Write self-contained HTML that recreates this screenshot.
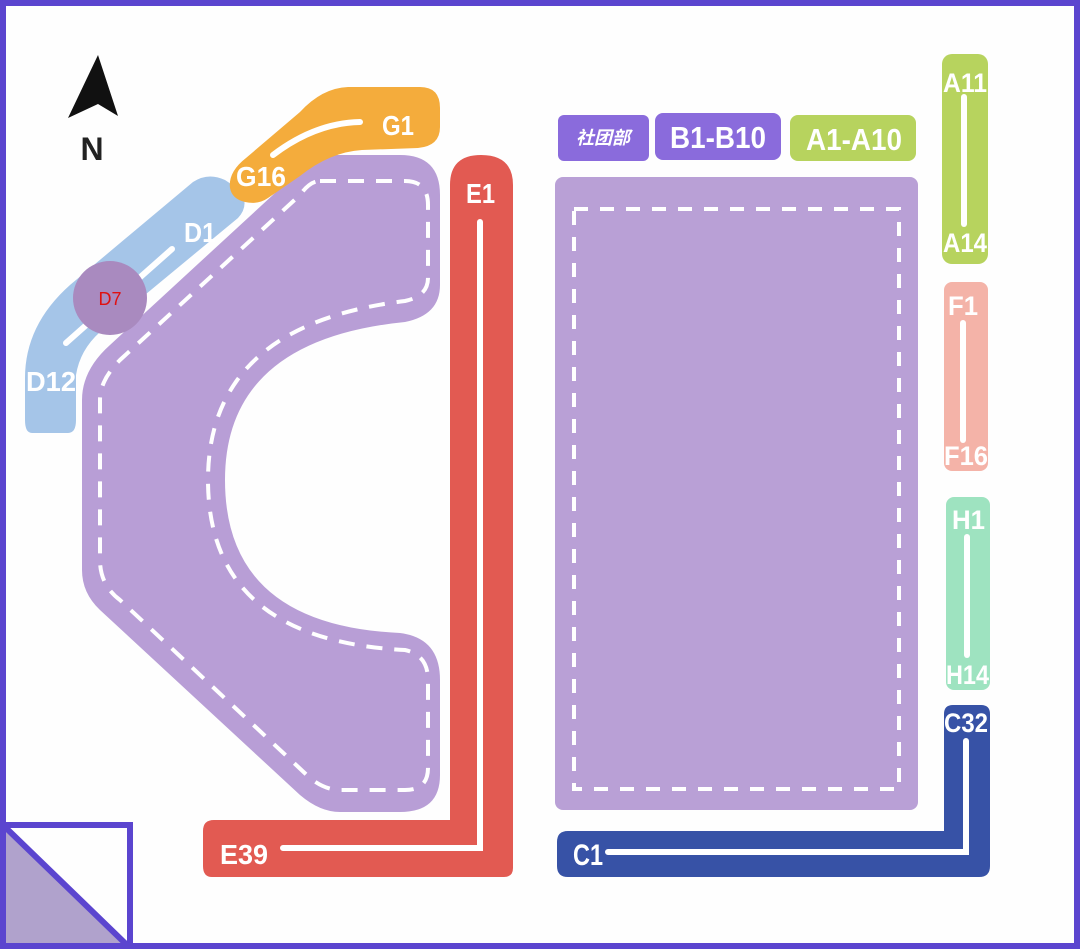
<!DOCTYPE html>
<html><head><meta charset="utf-8"><style>
html,body{margin:0;padding:0;background:#fff;}
svg{display:block;}
text{font-family:"Liberation Sans","Noto Sans CJK SC",sans-serif;font-weight:bold;fill:#fff;}
</style></head><body>
<svg width="1080" height="949" viewBox="0 0 1080 949" xmlns="http://www.w3.org/2000/svg">
<rect x="0" y="0" width="1080" height="949" fill="#fefefe"/>
<!-- C-shaped road -->
<path d="M330 155 L400 155 Q440 155 440 195 L440 285 Q440 315 405 322 Q225 340 225 480 Q225 625 400 633 Q440 638 440 680 L440 775 Q440 812 400 812 L340 812 Q320 812 300 795 L100 610 Q82 593 82 570 L82 400 Q82 370 110 345 L300 170 Q315 155 330 155 Z" fill="#b89ed6"/>
<path d="M320 181 L405 181 Q428 181 428 205 L428 278 Q428 296 405 301 Q208 325 208 480 Q208 640 405 650 Q428 655 428 680 L428 768 Q428 790 405 790 L340 790 Q325 790 310 778 L120 600 Q100 585 100 560 L100 400 Q100 380 120 360 L300 195 Q310 181 320 181 Z" fill="none" stroke="#fff" stroke-width="4" stroke-dasharray="16 12"/>
<!-- D band -->
<path d="M32 433 L68 433 Q76 433 76 420 L76 375 Q80 350 100 332 L238 218 Q250 205 240 190 L225 180 Q208 172 193 182 L70 285 Q25 325 25 378 L25 420 Q25 433 32 433 Z" fill="#a5c5e8"/>
<line x1="66" y1="343" x2="172" y2="249" stroke="#fff" stroke-width="6" stroke-linecap="round"/>
<text x="184" y="242" font-size="28" textLength="32" lengthAdjust="spacingAndGlyphs">D1</text>
<text x="26" y="391" font-size="28" textLength="50" lengthAdjust="spacingAndGlyphs">D12</text>
<circle cx="110" cy="298" r="37" fill="#a98abf"/>
<text x="110" y="305" font-size="18" text-anchor="middle" style="fill:#e01010;font-weight:normal;">D7</text>
<!-- G band -->
<path d="M230 188 Q228 172 246 158 L300 112 Q322 88 348 87 L420 87 Q440 87 440 108 L440 127 Q440 146 418 148 L362 150 Q330 152 300 176 L268 198 Q258 205 245 202 Q232 199 230 188 Z" fill="#f4ac3c"/>
<path d="M273 155 Q315 123 360 122" stroke="#fff" stroke-width="6" fill="none" stroke-linecap="round"/>
<text x="382" y="135" font-size="28" textLength="32" lengthAdjust="spacingAndGlyphs">G1</text>
<text x="236" y="186" font-size="28" textLength="50" lengthAdjust="spacingAndGlyphs">G16</text>
<!-- E band -->
<path d="M450 185 Q450 155 481 155 Q513 155 513 185 L513 868 Q513 877 504 877 L212 877 Q203 877 203 866 L203 831 Q203 820 214 820 L450 820 Z" fill="#e25a52"/>
<path d="M480 222 L480 848 L283 848" stroke="#fff" stroke-width="6" fill="none" stroke-linecap="round"/>
<text x="466" y="203" font-size="28" textLength="29" lengthAdjust="spacingAndGlyphs">E1</text>
<text x="220" y="864" font-size="28" textLength="48" lengthAdjust="spacingAndGlyphs">E39</text>
<!-- big rect -->
<rect x="555" y="177" width="363" height="633" rx="8" fill="#b9a0d6"/>
<rect x="574" y="209" width="325" height="580" fill="none" stroke="#fff" stroke-width="4" stroke-dasharray="14 12"/>
<!-- tags -->
<rect x="558" y="115" width="91" height="46" rx="6" fill="#8a6bdc"/>
<text x="603" y="144" font-size="18" text-anchor="middle" font-style="italic">社团部</text>
<rect x="655" y="113" width="126" height="47" rx="8" fill="#8a6bdc"/>
<text x="670" y="148" font-size="31" textLength="96" lengthAdjust="spacingAndGlyphs">B1-B10</text>
<rect x="790" y="115" width="126" height="46" rx="8" fill="#b7d35e"/>
<text x="806" y="150" font-size="31" textLength="96" lengthAdjust="spacingAndGlyphs">A1-A10</text>
<!-- right bars -->
<rect x="942" y="54" width="46" height="210" rx="10" fill="#b7d35e"/>
<line x1="964" y1="97" x2="964" y2="224" stroke="#fff" stroke-width="6" stroke-linecap="round"/>
<text x="943" y="92" font-size="27" textLength="44" lengthAdjust="spacingAndGlyphs">A11</text>
<text x="943" y="252" font-size="27" textLength="44" lengthAdjust="spacingAndGlyphs">A14</text>
<rect x="944" y="282" width="44" height="189" rx="8" fill="#f4b3a8"/>
<line x1="963" y1="323" x2="963" y2="440" stroke="#fff" stroke-width="6" stroke-linecap="round"/>
<text x="948" y="315" font-size="27" textLength="30" lengthAdjust="spacingAndGlyphs">F1</text>
<text x="944" y="465" font-size="27" textLength="44" lengthAdjust="spacingAndGlyphs">F16</text>
<rect x="946" y="497" width="44" height="193" rx="8" fill="#9ee3c0"/>
<line x1="967" y1="537" x2="967" y2="655" stroke="#fff" stroke-width="6" stroke-linecap="round"/>
<text x="952" y="529" font-size="27" textLength="33" lengthAdjust="spacingAndGlyphs">H1</text>
<text x="946" y="684" font-size="27" textLength="43" lengthAdjust="spacingAndGlyphs">H14</text>
<path d="M944 714 Q944 705 953 705 L981 705 Q990 705 990 714 L990 866 Q990 877 979 877 L568 877 Q557 877 557 866 L557 842 Q557 831 568 831 L944 831 Z" fill="#3752a6"/>
<path d="M966 741 L966 852 L608 852" stroke="#fff" stroke-width="6" fill="none" stroke-linecap="round"/>
<text x="944" y="732" font-size="27" textLength="44" lengthAdjust="spacingAndGlyphs">C32</text>
<text x="573" y="865" font-size="30" textLength="30" lengthAdjust="spacingAndGlyphs">C1</text>
<!-- north arrow -->
<path d="M98 55 L118 116 L98 104 L68 118 Z" fill="#111"/>
<text x="92" y="160" font-size="32" text-anchor="middle" style="fill:#222;">N</text>
<!-- corner legend -->
<path d="M4 826 L128 946 L4 946 Z" fill="#b0a2cc"/>
<rect x="3" y="825" width="127" height="121" fill="none" stroke="#5b45cf" stroke-width="6"/>
<line x1="4" y1="826" x2="128" y2="946" stroke="#5b45cf" stroke-width="6"/>
<!-- frame -->
<rect x="3" y="3" width="1074" height="943" fill="none" stroke="#5b45cf" stroke-width="6"/>
</svg>
</body></html>
